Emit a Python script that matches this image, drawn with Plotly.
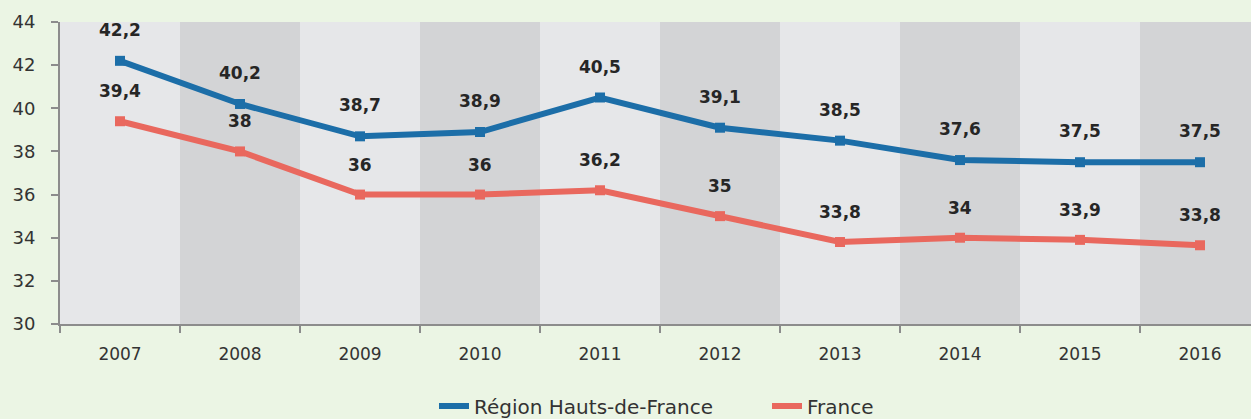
import plotly.graph_objects as go

years = ["2007", "2008", "2009", "2010", "2011", "2012", "2013", "2014", "2015", "2016"]
region_values = [42.2, 40.2, 38.7, 38.9, 40.5, 39.1, 38.5, 37.6, 37.5, 37.5]
france_values = [39.4, 38.0, 36.0, 36.0, 36.2, 35.0, 33.8, 34.0, 33.9, 33.65]
region_labels = ["42,2", "40,2", "38,7", "38,9", "40,5", "39,1", "38,5", "37,6", "37,5", "37,5"]
france_labels = ["39,4", "38", "36", "36", "36,2", "35", "33,8", "34", "33,9", "33,8"]
series_names = ["Région Hauts-de-France", "France"]
y_ticks = [30, 32, 34, 36, 38, 40, 42, 44]

BLUE = "#1C6EA8"
RED = "#E9685E"
BG = "#EBF5E4"
BAND_LIGHT = "#E6E7E9"
BAND_DARK = "#D3D4D6"
FONT = "DejaVu Sans"

fig = go.Figure()

fig.add_trace(go.Scatter(
    x=years, y=region_values, mode="lines+markers", name=series_names[0], showlegend=False,
    line=dict(color=BLUE, width=6), marker=dict(symbol="square", size=10, color=BLUE),
))
fig.add_trace(go.Scatter(
    x=years, y=france_values, mode="lines+markers", name=series_names[1], showlegend=False,
    line=dict(color=RED, width=6), marker=dict(symbol="square", size=10, color=RED),
))
# legend entries (line only, as in the reference)
for name, color in zip(series_names, [BLUE, RED]):
    fig.add_trace(go.Scatter(x=[None], y=[None], mode="lines", name=name,
                             line=dict(color=color, width=6), showlegend=True))

shapes = []
for i, yr in enumerate(years):
    shapes.append(dict(
        type="rect", xref="x", yref="paper", x0=i - 0.5, x1=i + 0.5, y0=0, y1=1,
        fillcolor=BAND_LIGHT if i % 2 == 0 else BAND_DARK, line=dict(width=0), layer="below",
    ))

annotations = []
for i, (v, t) in enumerate(zip(region_values, region_labels)):
    annotations.append(dict(x=i, y=v, xref="x", yref="y", text="<b>" + t + "</b>", showarrow=False,
                            yshift=31, yanchor="middle",
                            font=dict(family=FONT, size=17, color="#262626")))
for i, (v, t) in enumerate(zip(france_values, france_labels)):
    annotations.append(dict(x=i, y=v, xref="x", yref="y", text="<b>" + t + "</b>", showarrow=False,
                            yshift=30, yanchor="middle",
                            font=dict(family=FONT, size=17, color="#262626")))

fig.update_layout(
    width=1251, height=419,
    margin=dict(l=60, r=0, t=22, b=95),
    paper_bgcolor=BG, plot_bgcolor=BAND_LIGHT,
    font=dict(family=FONT, size=17, color="#333333"),
    shapes=shapes, annotations=annotations,
    showlegend=True,
    legend=dict(orientation="h", xref="container", yref="container", x=434 / 1251, y=13 / 419,
                xanchor="left", yanchor="middle", font=dict(family=FONT, size=20, color="#333333"),
                bgcolor="rgba(0,0,0,0)", entrywidth=288, entrywidthmode="pixels",
                tracegroupgap=0),
    xaxis=dict(type="category", range=[-0.5, 9.425], showgrid=False, showline=True,
               linecolor="#8C8C8C", linewidth=2, ticks="outside", tickson="boundaries",
               ticklen=7, tickcolor="#8C8C8C", tickwidth=2, ticklabelstandoff=14,
               tickfont=dict(family=FONT, size=17, color="#333333"), zeroline=False),
    yaxis=dict(range=[30, 44], tickvals=y_ticks, showgrid=False, showline=True,
               linecolor="#8C8C8C", linewidth=2, ticks="outside", ticklen=7,
               tickcolor="#8C8C8C", tickwidth=2, zeroline=False, ticklabelstandoff=12,
               tickfont=dict(family=FONT, size=18, color="#333333")),
)

fig.write_html("out.html", config={"displayModeBar": False},
               post_script="document.body.style.margin='0';document.body.style.background='#EBF5E4';")
